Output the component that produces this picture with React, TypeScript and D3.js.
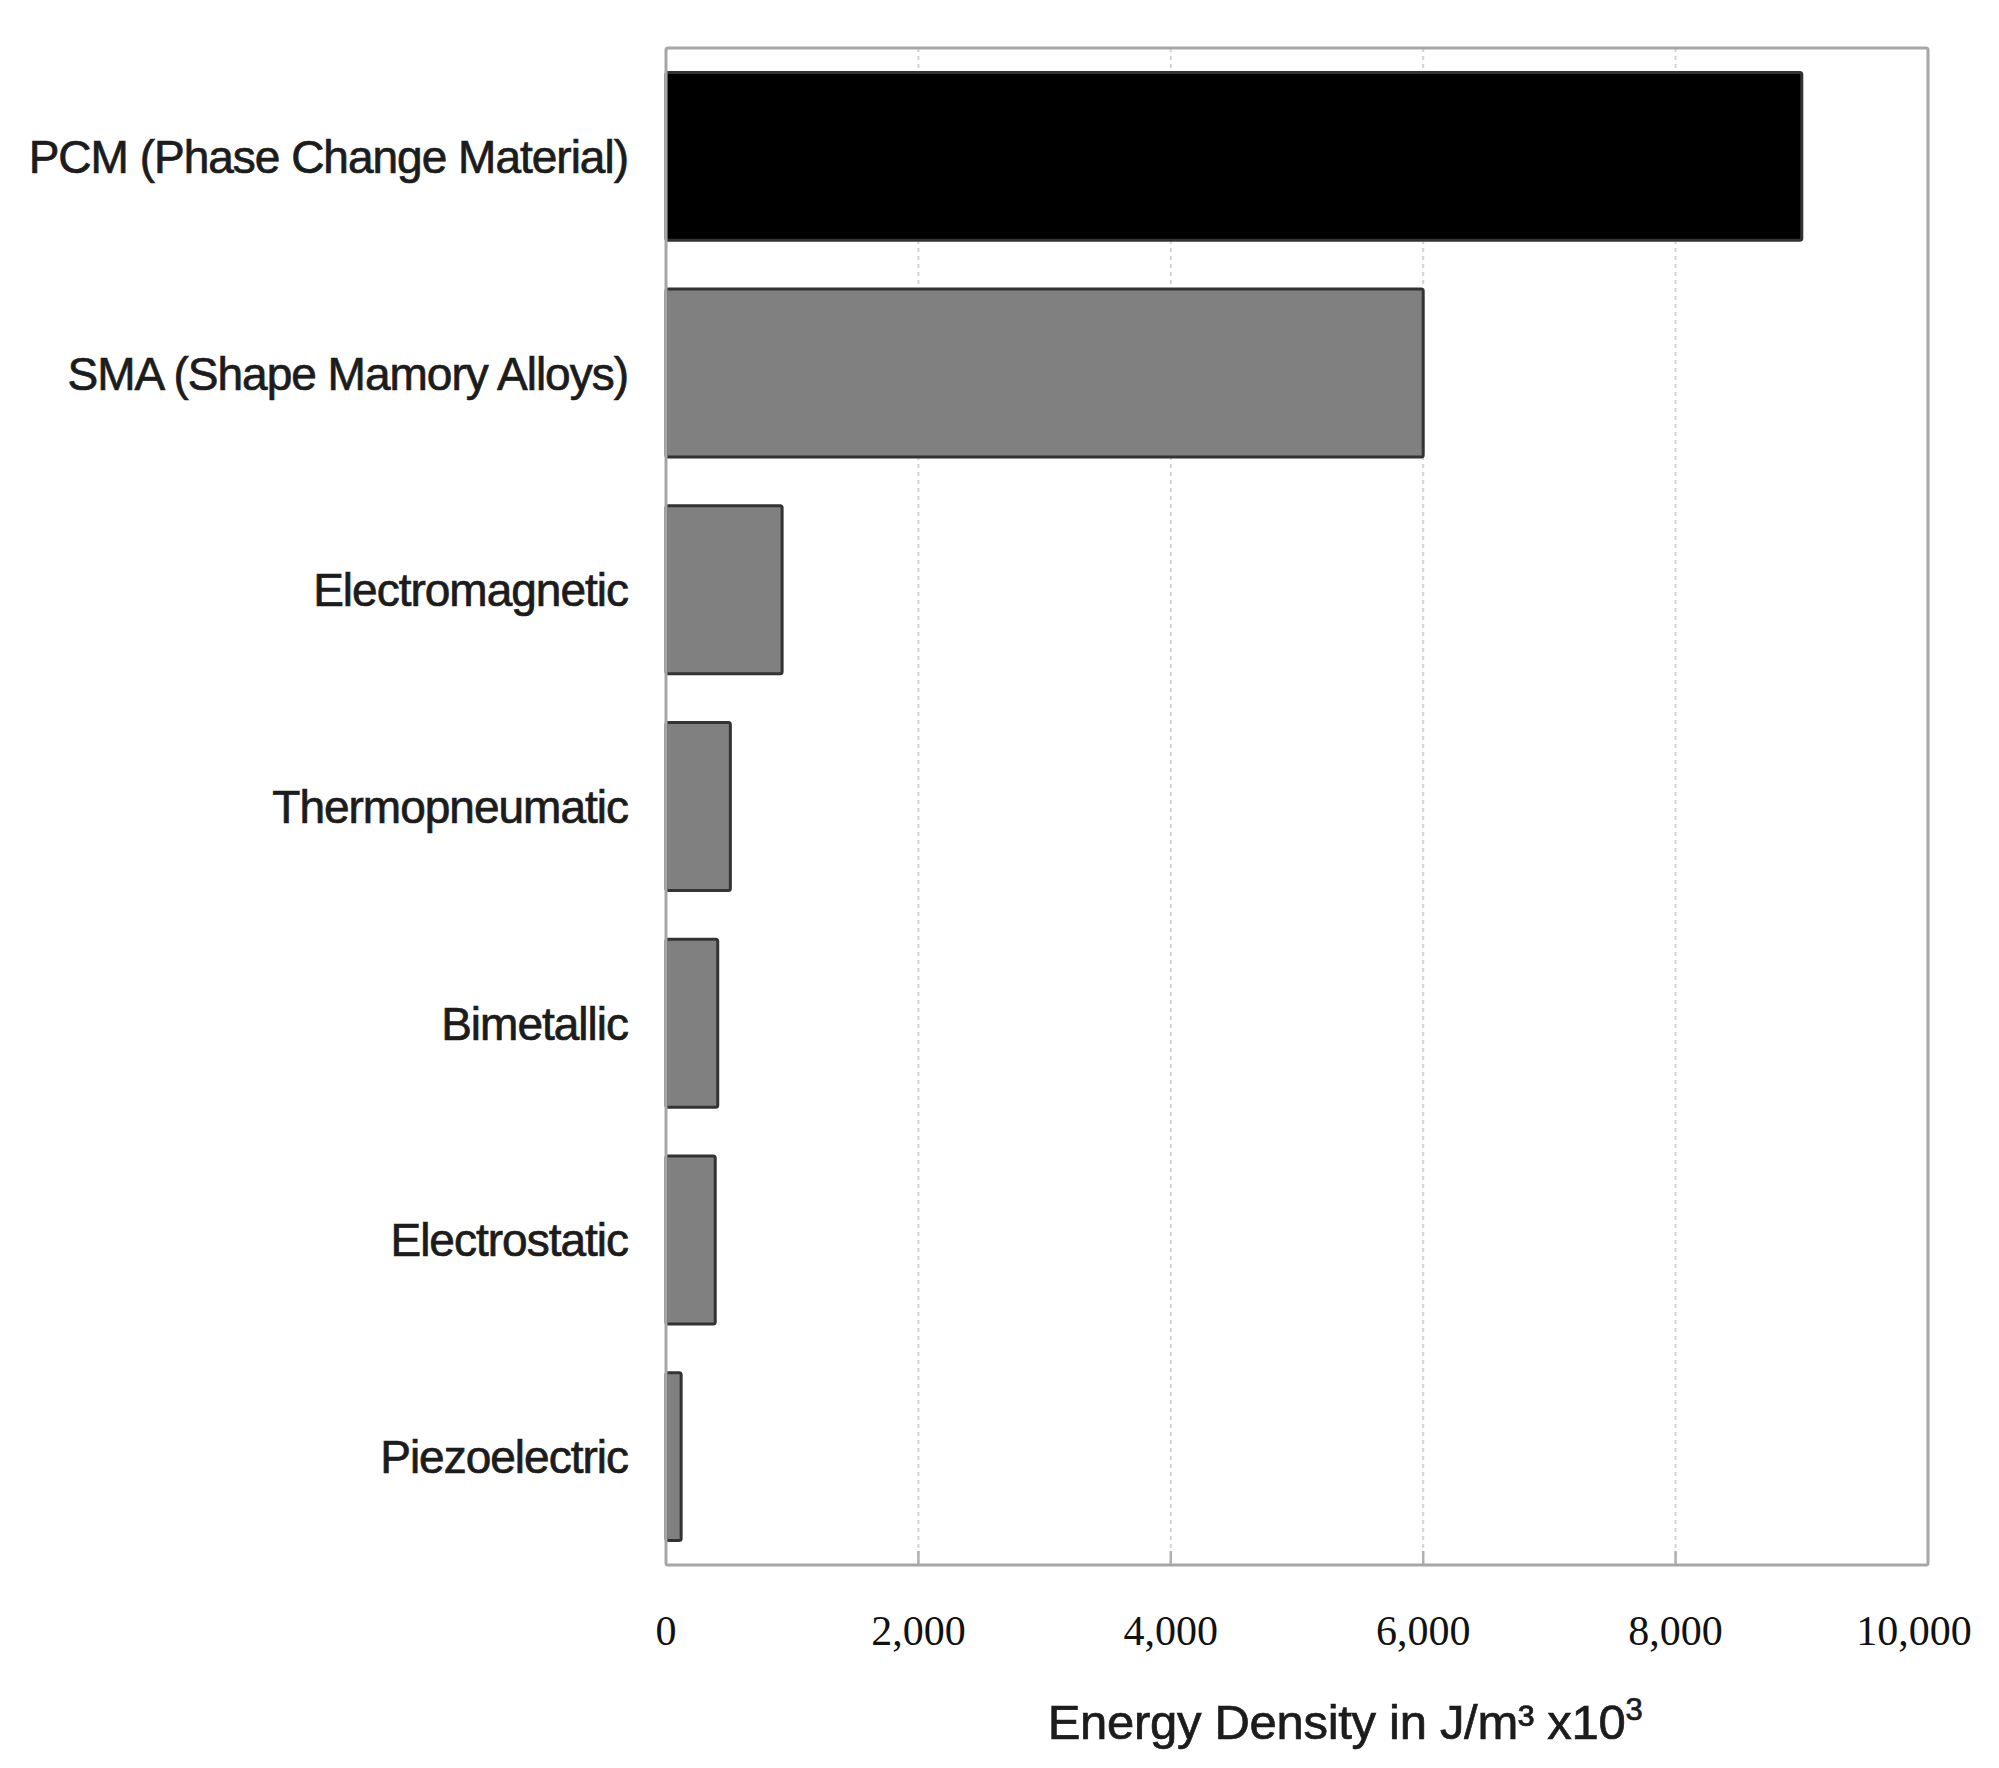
import React from 'react';
import { scaleLinear, scaleBand, format } from 'd3';

const WIDTH = 1999;
const HEIGHT = 1768;
const MARGINS = { top: 48, right: 71, bottom: 203, left: 666 };

const categories = [
  'PCM (Phase Change Material)',
  'SMA (Shape Mamory Alloys)',
  'Electromagnetic',
  'Thermopneumatic',
  'Bimetallic',
  'Electrostatic',
  'Piezoelectric',
];
const energyDensity = [9000, 6000, 920, 510, 410, 390, 120];
const xTicks = [0, 2000, 4000, 6000, 8000, 10000];

const COLORS = {
  highlight: '#000000',
  bar: '#808080',
  barStroke: '#333333',
  frame: '#a6a6a6',
  grid: '#d2d2d2',
  text: '#1c1c1c',
};

const SANS = '"Liberation Sans", Arial, sans-serif';
const SERIF = '"Liberation Serif", "Times New Roman", serif';

export default function App() {
  const innerW = WIDTH - MARGINS.left - MARGINS.right;
  const innerH = HEIGHT - MARGINS.top - MARGINS.bottom;

  const xScale = scaleLinear().domain([0, 10000]).range([0, innerW]);
  const yScale = scaleBand()
    .domain(categories)
    .range([0, innerH])
    .paddingInner(0.225)
    .paddingOuter(0.1125);
  const fmt = format(',');

  return (
    <svg
      width={WIDTH}
      height={HEIGHT}
      style={{ position: 'absolute', left: 0, top: 0, background: '#fff' }}
    >
      <g transform={`translate(${MARGINS.left}, ${MARGINS.top})`}>
        {/* vertical dotted grid */}
        {xTicks.slice(1, -1).map((t) => (
          <g key={`grid-${t}`}>
            <line
              x1={xScale(t)}
              x2={xScale(t)}
              y1={0}
              y2={innerH}
              stroke={COLORS.grid}
              strokeWidth={2}
              strokeDasharray="4,4"
            />
            <line
              x1={xScale(t)}
              x2={xScale(t)}
              y1={innerH - 14}
              y2={innerH}
              stroke="#b0b0b0"
              strokeWidth={2.5}
            />
          </g>
        ))}

        {/* bars */}
        {categories.map((c, i) => (
          <rect
            key={c}
            x={xScale(0)}
            y={yScale(c)}
            width={xScale(energyDensity[i]) - xScale(0)}
            height={yScale.bandwidth()}
            rx={2}
            fill={i === 0 ? COLORS.highlight : COLORS.bar}
            stroke={COLORS.barStroke}
            strokeWidth={3}
          />
        ))}

        {/* frame */}
        <rect
          x={0}
          y={0}
          width={innerW}
          height={innerH}
          fill="none"
          stroke={COLORS.frame}
          strokeWidth={3}
          rx={2}
        />

        {/* category labels */}
        {categories.map((c) => (
          <text
            key={`lbl-${c}`}
            x={-38}
            y={yScale(c) + yScale.bandwidth() / 2}
            dy="0.36em"
            textAnchor="end"
            fontFamily={SANS}
            fontSize={46}
            letterSpacing={-1}
            fill={COLORS.text}
            stroke={COLORS.text}
            strokeWidth={0.7}
          >
            {c}
          </text>
        ))}

        {/* x tick labels */}
        {xTicks.map((t, i) => (
          <text
            key={`tick-${t}`}
            x={xScale(t) - (i === xTicks.length - 1 ? 14 : 0)}
            y={innerH + 80}
            textAnchor="middle"
            fontFamily={SERIF}
            fontSize={42}
            fill="#111"
          >
            {fmt(t)}
          </text>
        ))}

        {/* x axis title */}
        <text
          x={1345 - MARGINS.left}
          y={innerH + 174}
          textAnchor="middle"
          fontFamily={SANS}
          fontSize={49}
          letterSpacing={-0.3}
          fill={COLORS.text}
          stroke={COLORS.text}
          strokeWidth={0.7}
        >
          Energy Density in J/m³ x10
          <tspan fontSize={31} dy={-19}>3</tspan>
        </text>
      </g>
    </svg>
  );
}
